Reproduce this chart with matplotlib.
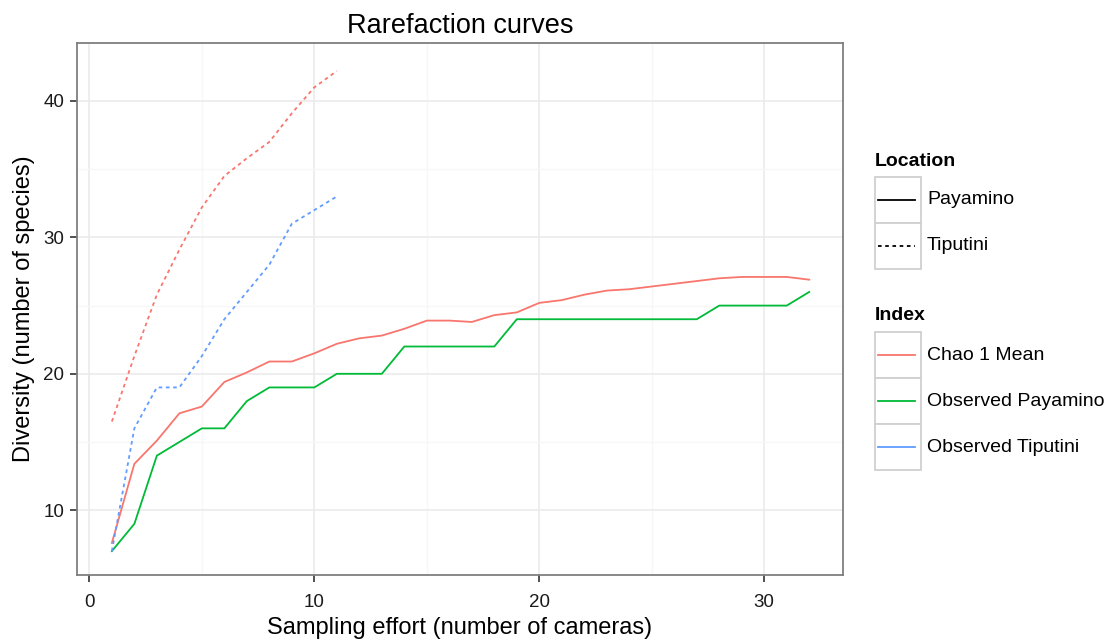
import numpy as np
import matplotlib
matplotlib.use("Agg")
import matplotlib.pyplot as plt
from matplotlib.lines import Line2D
from matplotlib.patches import Rectangle

plt.rcParams['font.family'] = ['Liberation Sans', 'DejaVu Sans']

# ----------------------
# Data
# ----------------------
effort_pay = list(range(1, 33))
effort_tip = list(range(1, 12))

chao_pay = [7.6, 13.4, 15.1, 17.1, 17.6, 19.4, 20.1, 20.9, 20.9, 21.5,
            22.2, 22.6, 22.8, 23.3, 23.9, 23.9, 23.8, 24.3, 24.5, 25.2,
            25.4, 25.8, 26.1, 26.2, 26.4, 26.6, 26.8, 27.0, 27.1, 27.1,
            27.1, 26.9]
obs_pay = [7, 9, 14, 15, 16, 16, 18, 19, 19, 19,
           20, 20, 20, 22, 22, 22, 22, 22, 24, 24,
           24, 24, 24, 24, 24, 24, 24, 25, 25, 25,
           25, 26]
chao_tip = [16.5, 21.3, 25.8, 29.1, 32.2, 34.5, 35.8, 37.0, 39.1, 41.0, 42.2]
obs_tip = [7, 16, 19, 19, 21.3, 24, 26, 28, 31, 32, 33]

index_labels = ['Chao 1 Mean', 'Observed Payamino', 'Observed Tiputini']
location_labels = ['Payamino', 'Tiputini']
index_colors = ['#F8766D', '#00BA38', '#619CFF']

W, H = 1118, 641
fig = plt.figure(figsize=(W / 100, H / 100), dpi=100)
ax = fig.add_axes([77 / W, 1 - 575 / H, (843 - 77) / W, (575 - 43) / H])

lw = 1.3
ls_tip = (0, (2, 2))
ax.plot(effort_pay, chao_pay, color=index_colors[0], lw=lw)
ax.plot(effort_pay, obs_pay, color=index_colors[1], lw=lw)
ax.plot(effort_tip, chao_tip, color=index_colors[0], lw=lw, ls=ls_tip)
ax.plot(effort_tip, obs_tip, color=index_colors[2], lw=lw, ls=ls_tip)

ax.set_xlim(-0.55, 33.5)
ax.set_ylim(5.25, 44.25)
ax.set_xticks([0, 10, 20, 30])
ax.set_yticks([10, 20, 30, 40])
ax.set_xticks([5, 15, 25], minor=True)
ax.set_yticks([15, 25, 35], minor=True)
ax.grid(True, which='major', color='#ebebeb', lw=1.2)
ax.grid(True, which='minor', color='#f7f7f7', lw=1.0)
ax.set_axisbelow(True)
for s in ax.spines.values():
    s.set_color('#7f7f7f')
    s.set_linewidth(1.3)
ax.tick_params(which='major', length=5, width=1.2, color='#333333',
               labelsize=13.5, labelcolor='#1a1a1a')
ax.tick_params(axis='x', which='major', pad=9)
ax.tick_params(axis='y', which='major', pad=4)
ax.tick_params(which='minor', length=0)

ax.set_xlabel('Sampling effort (number of cameras)', fontsize=17, labelpad=4)
ax.set_ylabel('Diversity (number of species)', fontsize=17, labelpad=6)
ax.set_title('Rarefaction curves', fontsize=19.5, pad=7)

# ----------------------
# Legends (ggplot-style key boxes)
# ----------------------
def fx(px):
    return px / W

def fy(py):
    return 1 - py / H

def draw_key_group(title, title_y, top, labels, colors, styles):
    fig.text(fx(875), fy(title_y), title, fontsize=14, fontweight='bold',
             va='center', ha='left')
    step = 46
    for i, lab in enumerate(labels):
        y0 = top + i * step
        fig.add_artist(Rectangle((fx(875), fy(y0 + step)), fx(921) - fx(875),
                                 fy(y0) - fy(y0 + step), transform=fig.transFigure,
                                 facecolor='white', edgecolor='#d0d0d0', lw=1.3))
        yc = fy(y0 + step / 2)
        fig.add_artist(Line2D([fx(878), fx(915)], [yc, yc], transform=fig.transFigure,
                              color=colors[i], lw=lw, ls=styles[i]))
        fig.text(fx(927), yc, lab, fontsize=14, va='center', ha='left')

draw_key_group('Location', 161, 177, location_labels,
               ['black', 'black'], ['-', ls_tip])
draw_key_group('Index', 316, 332, index_labels, index_colors, ['-', '-', '-'])

fig.savefig('out.png', dpi=100)
